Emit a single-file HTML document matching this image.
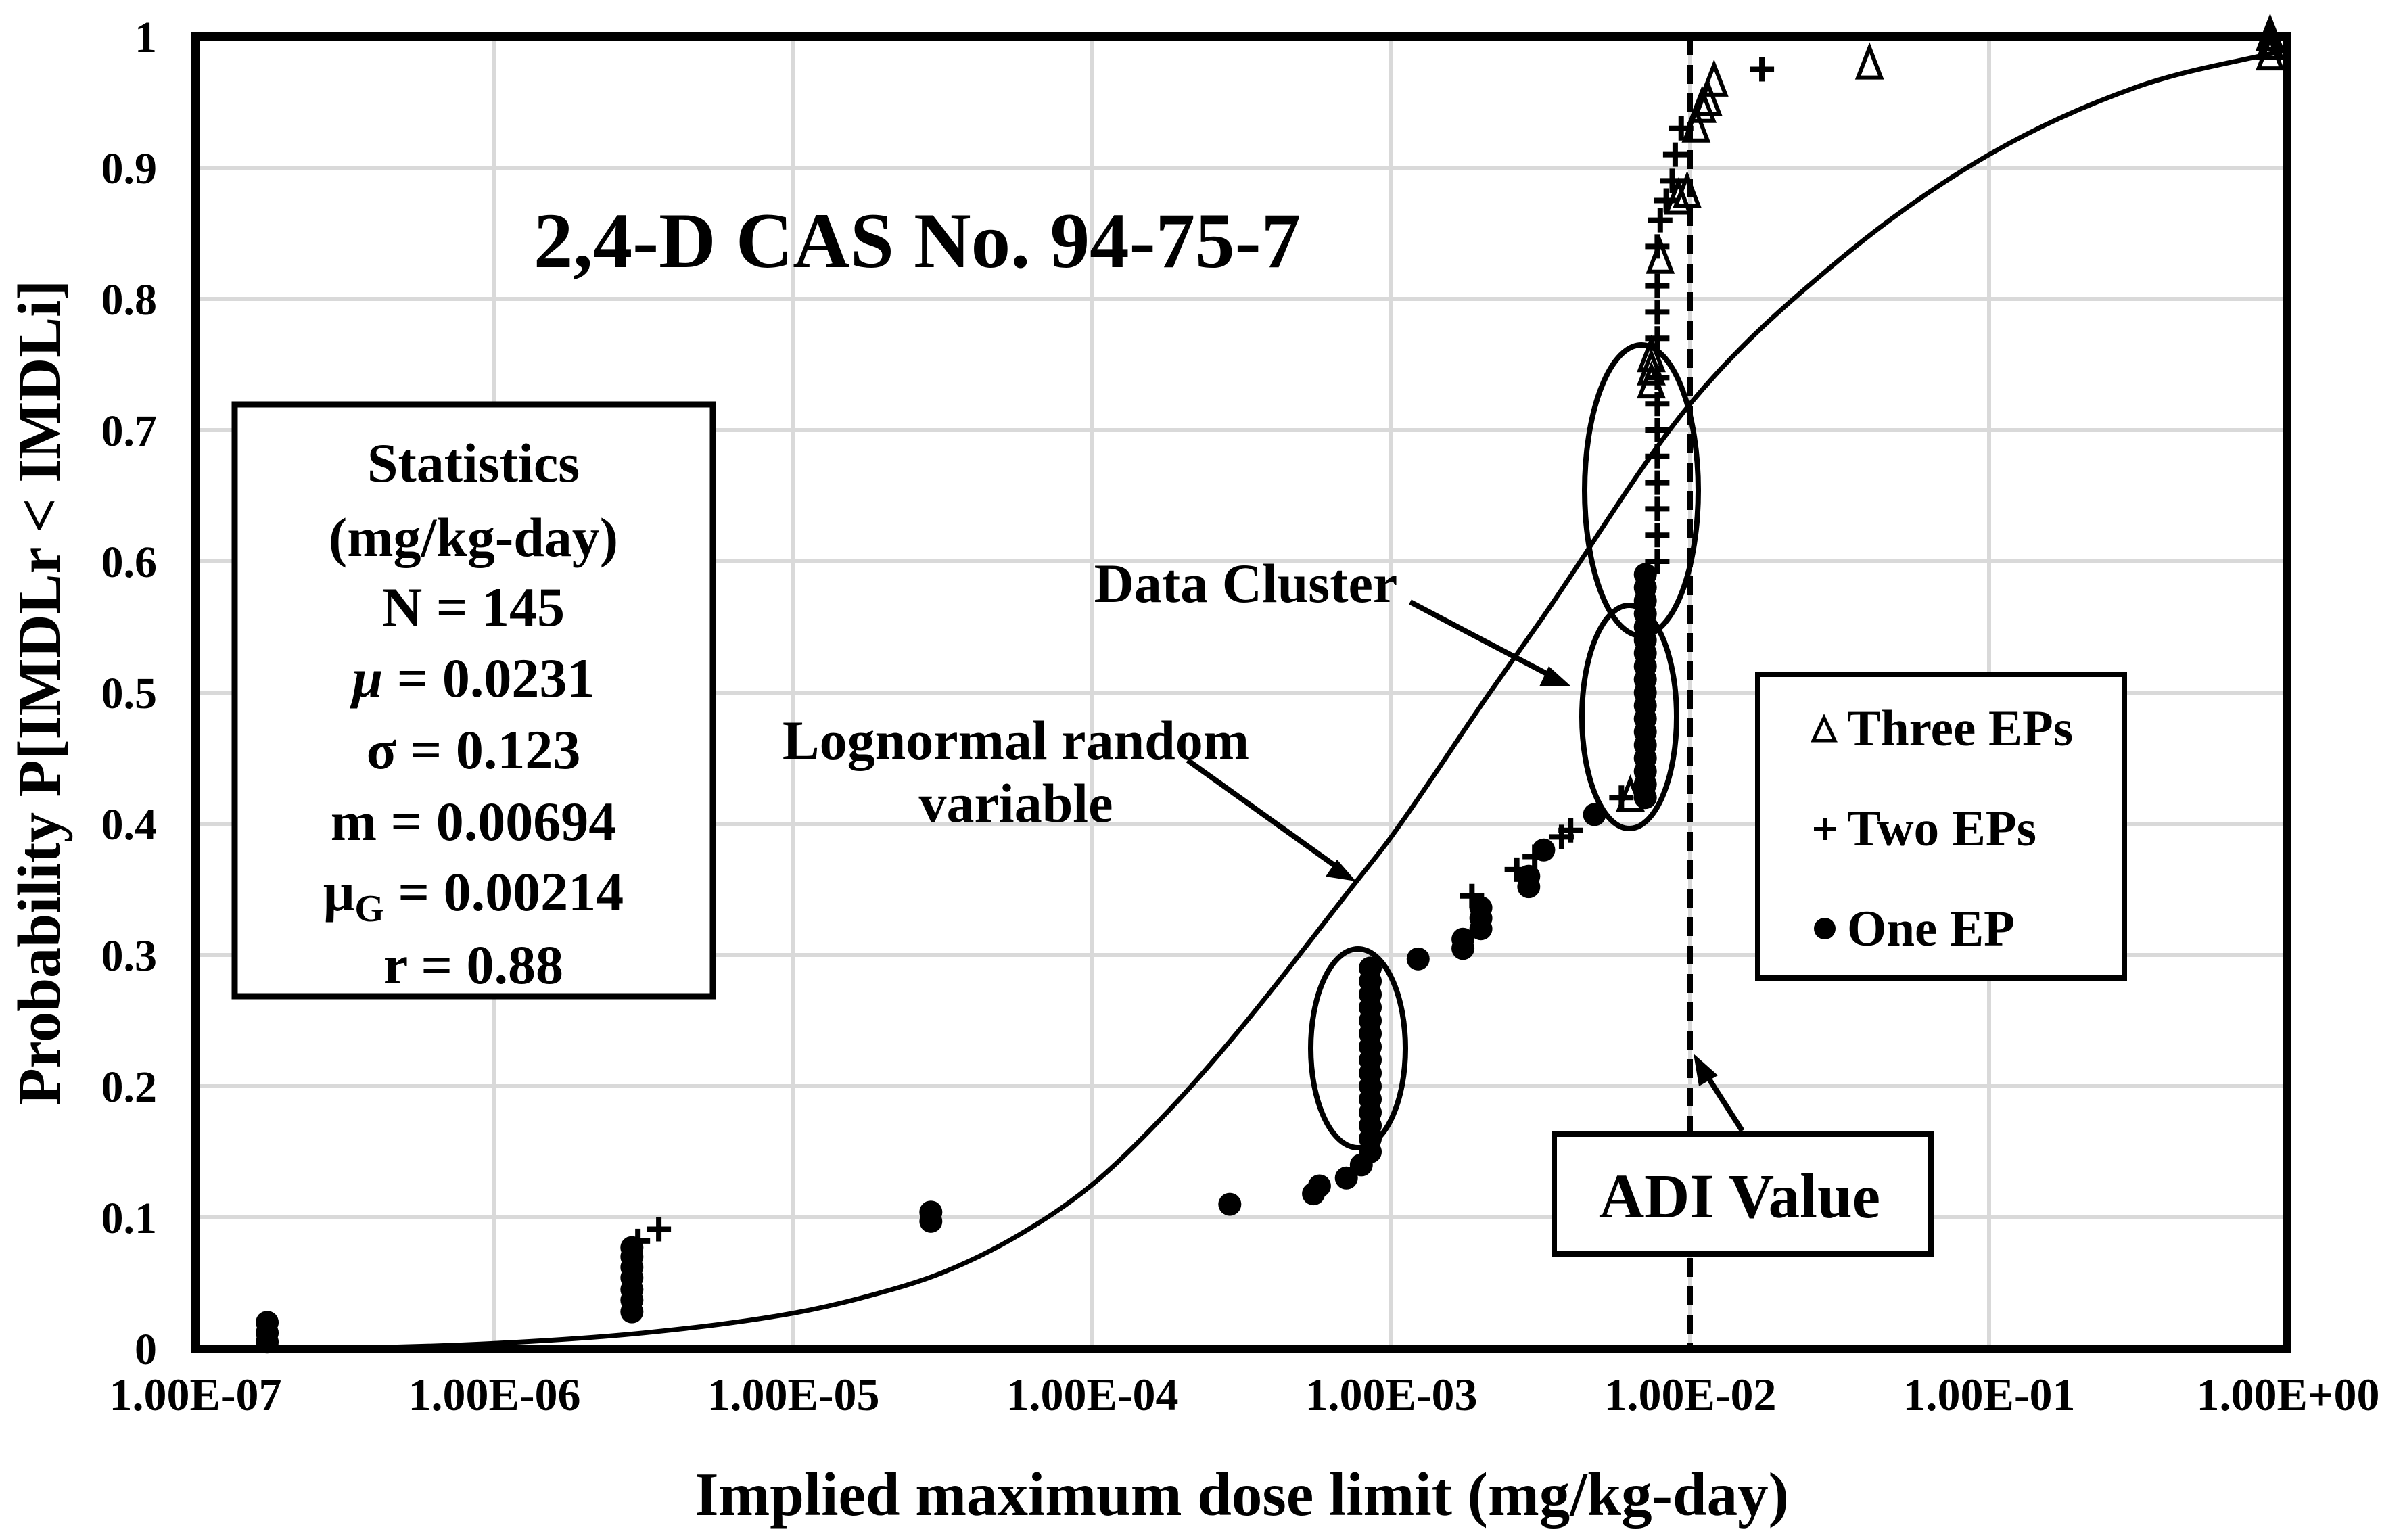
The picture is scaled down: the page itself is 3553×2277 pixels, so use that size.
<!DOCTYPE html>
<html><head><meta charset="utf-8"><style>
html,body{margin:0;padding:0;background:#fff}
svg{display:block}
text{font-family:"Liberation Serif",serif;font-weight:bold;fill:#000}
</style></head><body>
<svg id="chart" xmlns="http://www.w3.org/2000/svg" width="3553" height="2277" viewBox="0 0 3553 2277">
<rect width="3553" height="2277" fill="#fff"/>
<g id="grid"></g>
<g id="curve"></g>
<line id="adi" stroke="#000" stroke-width="8" stroke-dasharray="28,14"/>
<g id="marks"></g>
<g fill="none" stroke="#000" stroke-width="8">
<ellipse cx="2008" cy="1550" rx="70" ry="147"/>
<ellipse cx="2427" cy="725" rx="84" ry="215"/>
<ellipse cx="2409" cy="1060" rx="70" ry="165"/>
</g>
<rect x="289" y="54" width="3092" height="1940" fill="none" stroke="#000" stroke-width="12"/>
<g id="ticks"></g>
<text x="1356" y="395" font-size="117" text-anchor="middle">2,4-D CAS No. 94-75-7</text>
<g>
<rect x="347" y="598" width="707" height="875" fill="#fff" stroke="#000" stroke-width="9"/>
<g font-size="82" text-anchor="middle">
<text x="700" y="712">Statistics</text>
<text x="700" y="822">(mg/kg-day)</text>
<text x="700" y="925">N = 145</text>
<text x="700" y="1030"><tspan font-style="italic">μ</tspan> = 0.0231</text>
<text x="700" y="1136">σ = 0.123</text>
<text x="700" y="1242">m = 0.00694</text>
<text x="700" y="1346">μ<tspan font-size="56" dy="16">G</tspan><tspan dy="-16"> = 0.00214</tspan></text>
<text x="700" y="1454">r = 0.88</text>
</g></g>
<g>
<rect x="2599" y="997" width="542" height="449" fill="#fff" stroke="#000" stroke-width="8"/>
<polygon points="2697,1061 2681,1095 2713,1095" fill="none" stroke="#000" stroke-width="5"/>
<text x="2731" y="1102" font-size="75">Three EPs</text>
<path d="M2682,1226H2714M2698,1210V1242" stroke="#000" stroke-width="6"/>
<text x="2731" y="1250" font-size="75">Two EPs</text>
<circle cx="2698" cy="1373" r="16"/>
<text x="2731" y="1398" font-size="75">One EP</text>
</g>
<g>
<rect x="2298" y="1677" width="557" height="177" fill="#fff" stroke="#000" stroke-width="8"/>
<text x="2572" y="1800" font-size="93" text-anchor="middle">ADI Value</text>
</g>
<g stroke="#000" stroke-width="8">
<line x1="2576" y1="1672" x2="2514" y2="1575"/>
<polygon points="2504,1558 2540,1590 2512,1606" fill="#000" stroke="none"/>
<line x1="2085" y1="890" x2="2302" y2="1004"/>
<polygon points="2322,1014 2290,985 2276,1015" fill="#000" stroke="none"/>
<line x1="1756" y1="1124" x2="1985" y2="1288"/>
<polygon points="2005,1303 1977,1271 1960,1296" fill="#000" stroke="none"/>
</g>
<text x="1842" y="890" font-size="82" text-anchor="middle">Data Cluster</text>
<text x="1502" y="1122" font-size="82" text-anchor="middle">Lognormal random</text>
<text x="1502" y="1215" font-size="82" text-anchor="middle">variable</text>
<text x="1836" y="2240" font-size="91" text-anchor="middle">Implied maximum dose limit (mg/kg-day)</text>
<text transform="translate(88,1024) rotate(-90)" font-size="90" text-anchor="middle">Probability P[IMDLr &lt; IMDLi]</text>
</svg>
<script>
const xTickLabels=["1.00E-07","1.00E-06","1.00E-05","1.00E-04","1.00E-03","1.00E-02","1.00E-01","1.00E+00"];
const xTickLogs=[-7,-6,-5,-4,-3,-2,-1,0];
const yTicks=[0,0.1,0.2,0.3,0.4,0.5,0.6,0.7,0.8,0.9,1];
const yTickLabels=["0","0.1","0.2","0.3","0.4","0.5","0.6","0.7","0.8","0.9","1"];
const curveLog=[-7,-6.5,-6,-5.5,-5,-4.75,-4.5,-4.25,-4,-3.75,-3.5,-3.12,-3,-2.67,-2.5,-2,-1.5,-1,-0.5,0];
const curveP=[0,0.0005,0.004,0.012,0.027,0.04,0.058,0.086,0.125,0.18,0.245,0.355,0.39,0.5,0.555,0.72,0.83,0.91,0.962,0.99];
const oneLog=[-6.76,-6.76,-6.76,-5.54,-5.54,-5.54,-5.54,-5.54,-5.54,-5.54,-4.54,-4.54,-3.54,-3.26,-3.24,-3.15,-3.1,-3.07,-3.07,-3.07,-3.07,-3.07,-3.07,-3.07,-3.07,-3.07,-3.07,-3.07,-3.07,-3.07,-3.07,-3.07,-2.91,-2.76,-2.76,-2.7,-2.7,-2.7,-2.54,-2.54,-2.49,-2.32,-2.15,-2.15,-2.15,-2.15,-2.15,-2.15,-2.15,-2.15,-2.15,-2.15,-2.15,-2.15,-2.15,-2.15,-2.15,-2.15,-2.15,-2.15];
const oneP=[0.005,0.012,0.02,0.028,0.037,0.045,0.054,0.062,0.07,0.077,0.097,0.104,0.11,0.118,0.124,0.13,0.14,0.15,0.16,0.17,0.18,0.19,0.2,0.21,0.22,0.23,0.24,0.25,0.26,0.27,0.28,0.29,0.297,0.305,0.312,0.32,0.328,0.336,0.352,0.36,0.38,0.407,0.42,0.43,0.44,0.45,0.46,0.47,0.48,0.49,0.5,0.51,0.52,0.53,0.54,0.55,0.56,0.57,0.58,0.59];
const twoLog=[-5.52,-5.45,-2.73,-2.58,-2.52,-2.43,-2.4,-2.23,-2.11,-2.11,-2.11,-2.11,-2.11,-2.11,-2.11,-2.11,-2.11,-2.11,-2.11,-2.11,-2.1,-2.08,-2.06,-2.05,-2.03,-1.76];
const twoP=[0.082,0.091,0.345,0.365,0.375,0.39,0.395,0.42,0.6,0.62,0.64,0.66,0.68,0.7,0.72,0.74,0.77,0.79,0.81,0.84,0.86,0.875,0.89,0.91,0.93,0.975];
const threeLog=[-2.2,-2.13,-2.13,-2.13,-2.1,-2.04,-2.01,-1.98,-1.96,-1.94,-1.92,-1.4,-0.06,-0.06,-0.06];
const threeP=[0.42,0.735,0.745,0.755,0.83,0.875,0.88,0.93,0.945,0.95,0.965,0.978,0.985,0.993,1.0];
const NS="http://www.w3.org/2000/svg";
function X(l){return 289+(l+7)*442;}
function Y(p){return 1994-p*1940;}
function mk(tag,attrs,parent){const e=document.createElementNS(NS,tag);for(const k in attrs)e.setAttribute(k,attrs[k]);parent.appendChild(e);return e;}
const grid=document.getElementById('grid');
for(let i=0;i<xTickLogs.length;i++){
  const l=mk('line',{x1:X(xTickLogs[i]),x2:X(xTickLogs[i]),y1:Y(0),y2:Y(1),stroke:'#d9d9d9','stroke-width':6},grid);
  
  
}
for(let i=0;i<yTicks.length;i++){
  const l=mk('line',{x1:X(-7),x2:X(0),y1:Y(yTicks[i]),y2:Y(yTicks[i]),stroke:'#d9d9d9','stroke-width':6},grid);
  
  
}
const ticks=document.getElementById('ticks');
for(let i=0;i<xTickLabels.length;i++){
  const t=mk('text',{x:X(xTickLogs[i]),y:2085,'font-size':68,'text-anchor':'middle'},ticks);
  t.textContent=xTickLabels[i];
  
  
}
for(let i=0;i<yTicks.length;i++){
  const t=mk('text',{x:232,y:Y(yTicks[i])+23,'font-size':66,'text-anchor':'end'},ticks);
  t.textContent=yTickLabels[i];
  
  
}
// monotone cubic interpolation (Fritsch-Carlson)
const xs=curveLog.map(X), ys=curveP.map(Y), n=xs.length;
const dk=[],m=[];
for(let i=0;i<n-1;i++)dk.push((ys[i+1]-ys[i])/(xs[i+1]-xs[i]));
m[0]=dk[0];m[n-1]=dk[n-2];
for(let i=1;i<n-1;i++){m[i]=(dk[i-1]*dk[i]<=0)?0:(dk[i-1]+dk[i])/2;}
for(let i=0;i<n-1;i++){
  if(dk[i]===0){m[i]=0;m[i+1]=0;continue;}
  const a=m[i]/dk[i],b=m[i+1]/dk[i],s=a*a+b*b;
  if(s>9){const t=3/Math.sqrt(s);m[i]=t*a*dk[i];m[i+1]=t*b*dk[i];}
}
let d='M'+xs[0]+','+ys[0];
for(let i=0;i<n-1;i++){
  const h=(xs[i+1]-xs[i])/3;
  d+=' C'+(xs[i]+h)+','+(ys[i]+m[i]*h)+' '+(xs[i+1]-h)+','+(ys[i+1]-m[i+1]*h)+' '+xs[i+1]+','+ys[i+1];
}
const cv=mk('path',{d:d,fill:'none',stroke:'#000','stroke-width':7},document.getElementById('curve'));


const adi=document.getElementById('adi');
adi.setAttribute('x1',X(-2));adi.setAttribute('x2',X(-2));adi.setAttribute('y1',Y(1));adi.setAttribute('y2',Y(0));
const marks=document.getElementById('marks');
for(let i=0;i<oneLog.length;i++){
  const c=mk('circle',{cx:X(oneLog[i]),cy:Y(oneP[i]),r:17},marks);
  
  
}
for(let i=0;i<twoLog.length;i++){
  const x=X(twoLog[i]),y=Y(twoP[i]);
  const p=mk('path',{d:'M'+(x-18)+','+y+'H'+(x+18)+'M'+x+','+(y-18)+'V'+(y+18),stroke:'#000','stroke-width':8},marks);
  
  
}
for(let i=0;i<threeLog.length;i++){
  const x=X(threeLog[i]),y=Y(threeP[i]);
  const p=mk('polygon',{points:x+','+(y-26)+' '+(x-17)+','+(y+18)+' '+(x+17)+','+(y+18),fill:'none',stroke:'#000','stroke-width':6},marks);
  
  
}
</script>
</body></html>
